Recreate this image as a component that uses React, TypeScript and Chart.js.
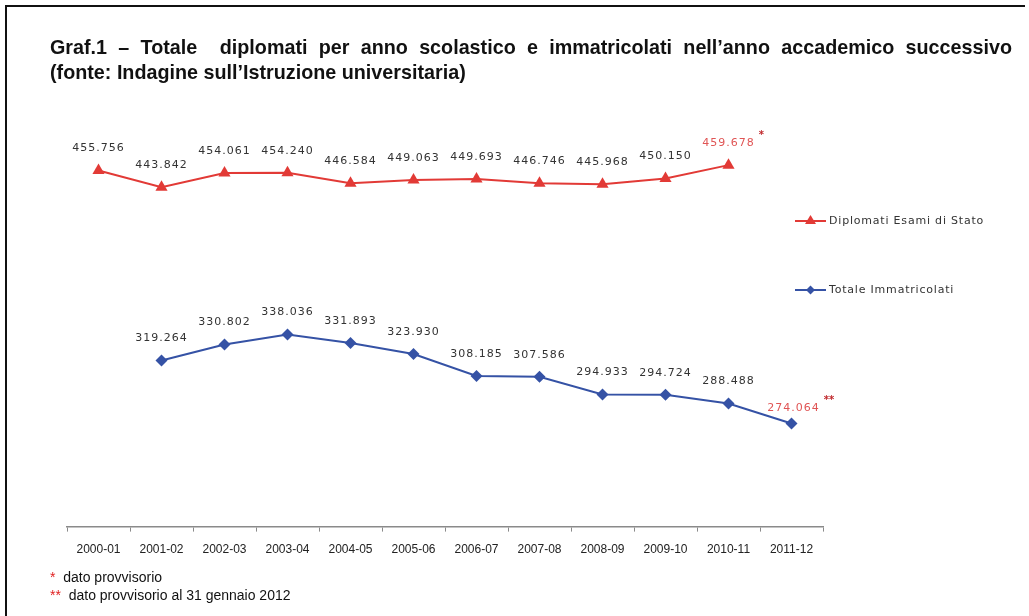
import React, { useEffect, useLayoutEffect, useRef } from "react";
import { Chart, registerables } from "chart.js";

Chart.register(...registerables);

const categories = ["2000-01", "2001-02", "2002-03", "2003-04", "2004-05", "2005-06", "2006-07", "2007-08", "2008-09", "2009-10", "2010-11", "2011-12"];
const diplomati = [455756, 443842, 454061, 454240, 446584, 449063, 449693, 446746, 445968, 450150, 459678, null];
const immatricolati = [null, 319264, 330802, 338036, 331893, 323930, 308185, 307586, 294933, 294724, 288488, 274064];
const diplomatiNotes = ["", "", "", "", "", "", "", "", "", "", "*", ""];
const immatricolatiNotes = ["", "", "", "", "", "", "", "", "", "", "", "**"];
const seriesNames = ["Diplomati Esami di Stato", "Totale Immatricolati"];
const titleLines = ["Graf.1 – Totale\u00a0 diplomati per anno scolastico e immatricolati nell’anno accademico successivo", "(fonte: Indagine sull’Istruzione universitaria)"];
const footnotes = [["*", "dato provvisorio"], ["**", "dato provvisorio al 31 gennaio 2012"]];

const RED = "#e23a36";
const BLUE = "#3552a5";
const NOTE_RED = "#e05555";

const fmt = (v: number) => {
  const s = String(Math.round(v));
  return s.replace(/\B(?=(\d{3})+(?!\d))/g, ".");
};

const labelsPlugin = {
  id: "valueLabels",
  afterDatasetsDraw(chart: any) {
    const ctx = chart.ctx;
    ctx.save();
    ctx.font = "11px 'DejaVu Sans'";
    (ctx as any).letterSpacing = "1px";
    ctx.textAlign = "center";
    ctx.textBaseline = "middle";
    chart.data.datasets.forEach((ds: any, di: number) => {
      const meta = chart.getDatasetMeta(di);
      const notes = ds.notes as string[];
      meta.data.forEach((pt: any, i: number) => {
        const v = ds.data[i];
        if (v == null) return;
        const note = notes[i];
        const txt = fmt(v);
        const dy = note === "**" ? 15 : 22;
        const x = pt.x + (note === "**" ? 2 : 0);
        const y = pt.y - dy;
        ctx.fillStyle = note ? NOTE_RED : "#333333";
        ctx.fillText(txt, x, y);
        if (note) {
          const w = ctx.measureText(txt).width;
          ctx.fillStyle = "#c0282c";
          ctx.font = "bold 10px 'DejaVu Sans'";
          (ctx as any).letterSpacing = "0px";
          ctx.textAlign = "left";
          ctx.fillText(note, x + w / 2 + 4, y - 8);
          ctx.font = "11px 'DejaVu Sans'";
          (ctx as any).letterSpacing = "1px";
          ctx.textAlign = "center";
        }
      });
    });
    ctx.restore();
  },
};

const legendPlugin = {
  id: "sideLegend",
  afterDraw(chart: any) {
    const ctx = chart.ctx;
    const area = chart.chartArea;
    const x0 = area.right - 28;
    const ys = [221, 290];
    ctx.save();
    chart.data.datasets.forEach((ds: any, di: number) => {
      const y = ys[di];
      ctx.strokeStyle = ds.borderColor;
      ctx.lineWidth = 2;
      ctx.beginPath();
      ctx.moveTo(x0, y);
      ctx.lineTo(x0 + 31, y);
      ctx.stroke();
      ctx.fillStyle = ds.borderColor;
      ctx.beginPath();
      if (ds.pointStyle === "triangle") {
        ctx.moveTo(x0 + 15.5, y - 6);
        ctx.lineTo(x0 + 21, y + 3);
        ctx.lineTo(x0 + 10, y + 3);
      } else {
        ctx.moveTo(x0 + 15.5, y - 4.5);
        ctx.lineTo(x0 + 20, y);
        ctx.lineTo(x0 + 15.5, y + 4.5);
        ctx.lineTo(x0 + 11, y);
      }
      ctx.closePath();
      ctx.fill();
      ctx.fillStyle = "#333333";
      ctx.font = "11px 'DejaVu Sans'";
      (ctx as any).letterSpacing = "0.8px";
      ctx.textAlign = "left";
      ctx.textBaseline = "middle";
      ctx.fillText(ds.label, x0 + 34, y);
    });
    ctx.restore();
  },
};

export default function App() {
  const ref = useRef<HTMLCanvasElement>(null);
  const titleRef = useRef<HTMLDivElement>(null);
  const line1Ref = useRef<HTMLSpanElement>(null);

  useLayoutEffect(() => {
    const w = line1Ref.current ? line1Ref.current.offsetWidth : 962;
    if (titleRef.current && w > 0) {
      titleRef.current.style.transform = `scaleX(${962 / w})`;
    }
  }, []);

  useEffect(() => {
    document.body.style.margin = "0";
    const chart = new Chart(ref.current as HTMLCanvasElement, {
      type: "line",
      data: {
        labels: categories,
        datasets: [
          {
            label: seriesNames[0],
            data: diplomati,
            borderColor: RED,
            backgroundColor: RED,
            borderWidth: 2,
            pointStyle: "triangle",
            pointRadius: 7,
            pointBorderWidth: 0,
            pointBackgroundColor: RED,
            spanGaps: false,
            notes: diplomatiNotes,
          } as any,
          {
            label: seriesNames[1],
            data: immatricolati,
            borderColor: BLUE,
            backgroundColor: BLUE,
            borderWidth: 2,
            pointStyle: "rectRot",
            pointRadius: 6,
            pointBorderWidth: 0,
            pointBackgroundColor: BLUE,
            spanGaps: false,
            notes: immatricolatiNotes,
          } as any,
        ],
      },
      options: {
        animation: false,
        responsive: false,
        layout: { padding: { left: 67, right: 206, top: 109, bottom: 48 } },
        plugins: { legend: { display: false }, tooltip: { enabled: false } },
        scales: {
          x: {
            type: "category",
            offset: true,
            grid: { offset: true, drawOnChartArea: false, tickLength: 5, color: "#8a8a8a", lineWidth: 1 },
            border: { color: "#8a8a8a", width: 1.5 },
            ticks: { color: "#222222", font: { family: "'Liberation Sans'", size: 12 }, padding: 11, maxRotation: 0, autoSkip: false },
          },
          y: { display: false, min: 200000, max: 500000 },
        },
      },
      plugins: [labelsPlugin, legendPlugin],
    });
    return () => chart.destroy();
  }, []);

  return (
    <div style={{ position: "relative", width: 1029, height: 616, background: "#fff", overflow: "hidden", fontFamily: "'Liberation Sans', Arial, sans-serif" }}>
      <div style={{ position: "absolute", left: 6, top: 5, width: 1019, height: 2, background: "#111" }} />
      <div style={{ position: "absolute", left: 5, top: 5, width: 2, height: 611, background: "#111" }} />
      <canvas ref={ref} width={1029} height={616} style={{ position: "absolute", left: 0, top: 0 }} />
      <div
        ref={titleRef}
        style={{ position: "absolute", left: 50, top: 34, whiteSpace: "nowrap", fontWeight: "bold", fontSize: 20.5, lineHeight: "25px", color: "#111", transformOrigin: "0 0" }}
      >
        <div><span ref={line1Ref} style={{ wordSpacing: 6 }}>{titleLines[0]}</span></div>
        <div>{titleLines[1]}</div>
      </div>
      <div style={{ position: "absolute", left: 50, top: 568, fontSize: 14, lineHeight: "18px", color: "#111" }}>
        {footnotes.map((f, i) => (
          <div key={i}>
            <span style={{ color: "#e02020" }}>{f[0]}</span>&nbsp;&nbsp;{f[1]}
          </div>
        ))}
      </div>
    </div>
  );
}
